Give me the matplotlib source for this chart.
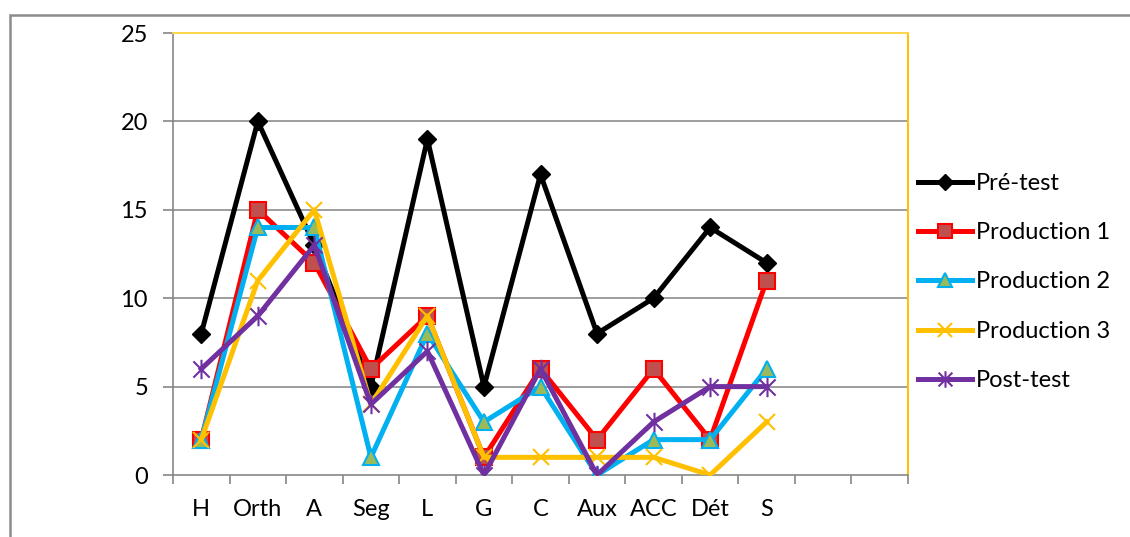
import matplotlib
matplotlib.use("Agg")
import matplotlib.pyplot as plt
from matplotlib.path import Path
from matplotlib.patches import Rectangle
import numpy as np

categories = ["H", "Orth", "A", "Seg", "L", "G", "C", "Aux", "ACC", "Dét", "S", "", ""]
pre_test = [8, 20, 13, 5, 19, 5, 17, 8, 10, 14, 12]
production_1 = [2, 15, 12, 6, 9, 1, 6, 2, 6, 2, 11]
production_2 = [2, 14, 14, 1, 8, 3, 5, 0, 2, 2, 6]
production_3 = [2, 11, 15, 4, 9, 1, 1, 1, 1, 0, 3]
post_test = [6, 9, 13, 4, 7, 0, 6, 0, 3, 5, 5]
y_ticks = [0, 5, 10, 15, 20, 25]

plt.rcParams['font.family'] = ['Lato', 'DejaVu Sans']

fig = plt.figure(figsize=(11.3, 5.37), dpi=100)
W, H = 1130, 537
# outer chart frame
fig.patches.append(Rectangle((10 / W, -0.05), 1.2, 1 - 15 / H + 0.05, transform=fig.transFigure,
                             fill=False, edgecolor="#8c8c8c", linewidth=1.8))

ax = fig.add_axes([173 / W, 1 - 475 / H, (908 - 173) / W, (475 - 33) / H])

x = np.arange(len(pre_test))
lw = 3.6
ax.plot(x, pre_test, color="black", lw=lw, marker="D", markersize=9,
        markerfacecolor="black", markeredgecolor="black", label="Pré-test", zorder=3)
ax.plot(x, production_1, color="#FF0000", lw=lw, marker="s", markersize=12,
        markerfacecolor="#C0504D", markeredgecolor="#FF0000", markeredgewidth=1.5,
        label="Production 1", zorder=4)
ax.plot(x, production_2, color="#00B0F0", lw=lw, marker="^", markersize=12,
        markerfacecolor="#9BBB59", markeredgecolor="#00B0F0", markeredgewidth=1.5,
        label="Production 2", zorder=5)
ax.plot(x, production_3, color="#FFC000", lw=lw, marker="x", markersize=12,
        markeredgewidth=1.5, markeredgecolor="#FFC000", label="Production 3", zorder=6)

star = Path([(-1, -1), (1, 1), (-1, 1), (1, -1), (0, -1.2), (0, 1.2)],
            [Path.MOVETO, Path.LINETO, Path.MOVETO, Path.LINETO, Path.MOVETO, Path.LINETO])
ax.plot(x, post_test, color="#7030A0", lw=lw, marker=star, markersize=14,
        markeredgewidth=1.5, markeredgecolor="#7030A0", markerfacecolor="none",
        label="Post-test", zorder=7)

ax.set_xlim(-0.5, len(categories) - 0.5)
ax.set_ylim(0, 25)
ax.set_yticks(y_ticks)
ax.set_yticklabels([str(t) for t in y_ticks])
ax.set_xticks(np.arange(len(categories)))
ax.set_xticklabels(categories)
ax.set_xticks(np.arange(len(categories) + 1) - 0.5, minor=True)
ax.tick_params(axis="x", which="major", length=0, pad=17, labelsize=17, colors="black")
ax.tick_params(axis="x", which="minor", length=6.5, width=1.2, color="#868686")
ax.tick_params(axis="y", which="major", length=7, width=1.2, color="#868686", pad=11,
               labelsize=17, labelcolor="black")

for v in y_ticks[1:-1]:
    ax.axhline(v, color="#8c8c8c", lw=1.2, zorder=1)

ax.spines["left"].set_color("#868686")
ax.spines["left"].set_linewidth(1.2)
ax.spines["bottom"].set_color("#868686")
ax.spines["bottom"].set_linewidth(1.2)
ax.spines["top"].set_color("#FFD54A")
ax.spines["top"].set_linewidth(1.4)
ax.spines["right"].set_color("#FFC000")
ax.spines["right"].set_linewidth(1.4)

leg = fig.legend(loc="center left", bbox_to_anchor=(918 / W, 1 - 282 / H), frameon=False,
                 fontsize=17, handlelength=2.3, handletextpad=0.15, labelspacing=1.2,
                 borderpad=0, borderaxespad=0)
for h in leg.legend_handles:
    h.set_markersize(h.get_markersize() * 0.85)

fig.savefig("out.png", dpi=100)
